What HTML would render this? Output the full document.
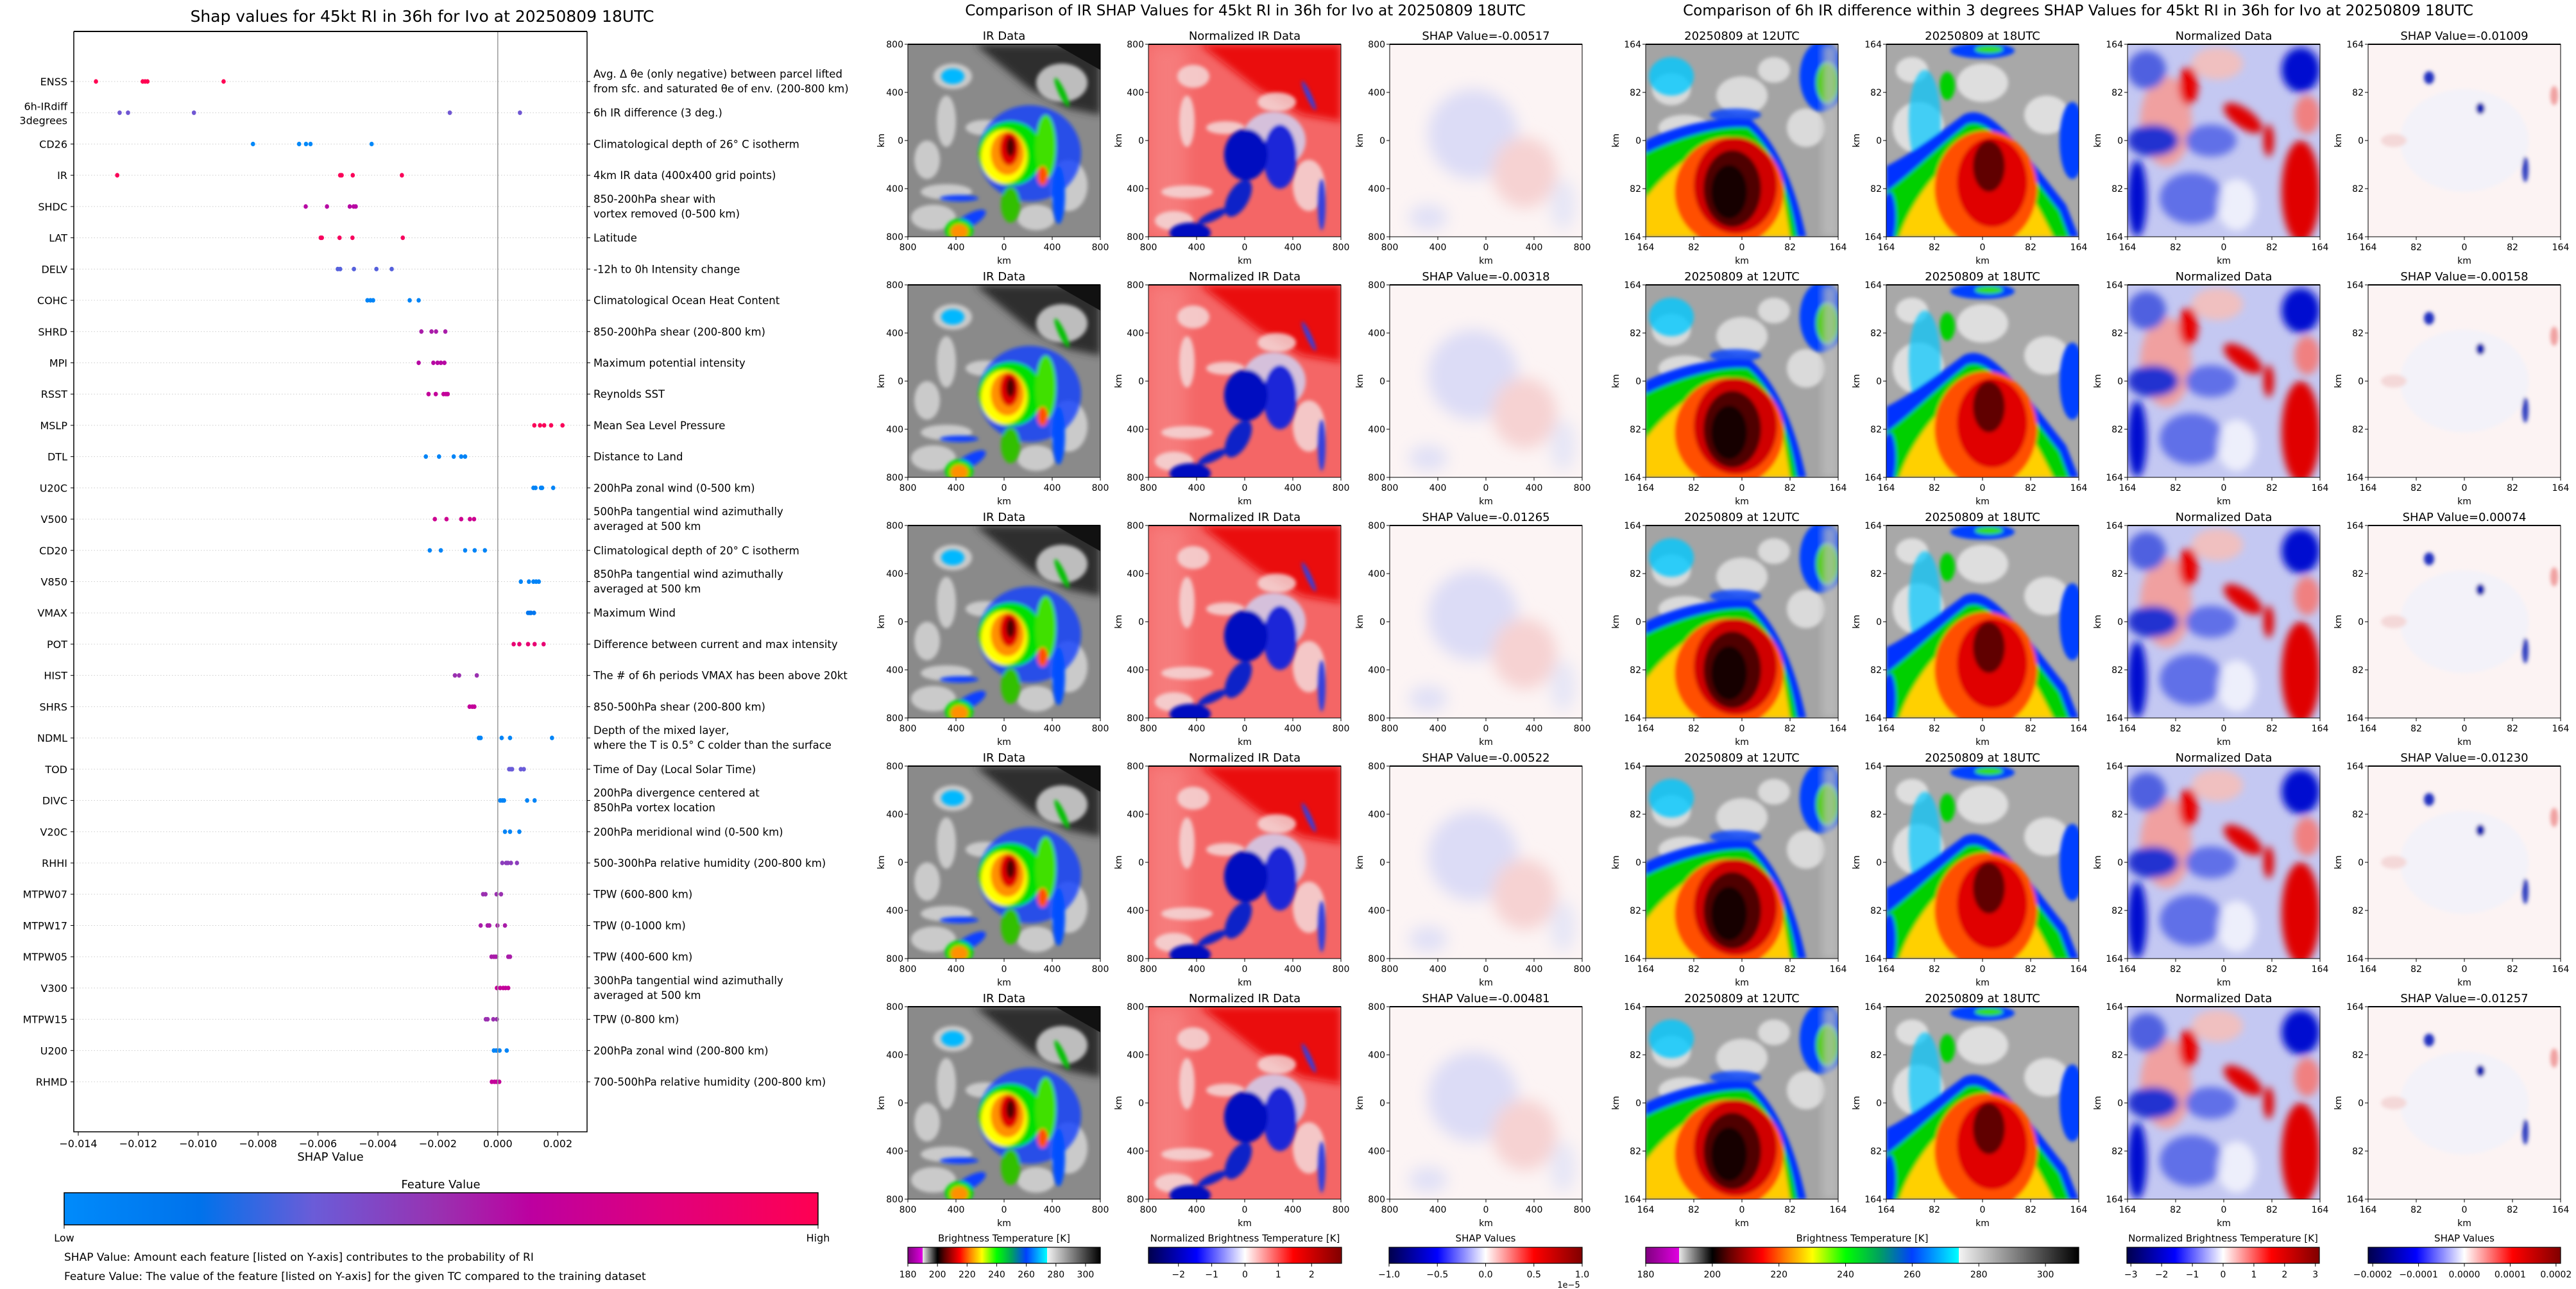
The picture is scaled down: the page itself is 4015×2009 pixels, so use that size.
<!DOCTYPE html>
<html><head><meta charset="utf-8">
<style>
html,body{margin:0;padding:0;background:#fff;}
svg{display:block;font-family:"DejaVu Sans","Liberation Sans",sans-serif;}
</style></head>
<body>
<svg id="fig" width="4015" height="2009" viewBox="0 0 4015 2009" xmlns="http://www.w3.org/2000/svg">
<defs>
  <filter id="b3" x="-20%" y="-20%" width="140%" height="140%"><feGaussianBlur stdDeviation="3"/></filter>
  <filter id="b6" x="-30%" y="-30%" width="160%" height="160%"><feGaussianBlur stdDeviation="6"/></filter>
  <filter id="b12" x="-40%" y="-40%" width="180%" height="180%"><feGaussianBlur stdDeviation="12"/></filter>
  <clipPath id="pc"><rect x="0" y="0" width="300" height="300"/></clipPath>
  <linearGradient id="fvGrad" x1="0" x2="1" y1="0" y2="0">
    <stop offset="0" stop-color="#008bfb"/><stop offset="0.18" stop-color="#0072eb"/>
    <stop offset="0.33" stop-color="#6a5cd8"/><stop offset="0.5" stop-color="#9a30b0"/>
    <stop offset="0.62" stop-color="#bd00a0"/><stop offset="0.8" stop-color="#e0007c"/>
    <stop offset="1" stop-color="#ff0052"/>
  </linearGradient>
  <linearGradient id="irGrad" x1="0" x2="1" y1="0" y2="0">
    <stop offset="0" stop-color="#800080"/><stop offset="0.077" stop-color="#e000e0"/>
    <stop offset="0.077" stop-color="#e8e8e8"/><stop offset="0.154" stop-color="#000000"/>
    <stop offset="0.192" stop-color="#600000"/><stop offset="0.269" stop-color="#ff0000"/>
    <stop offset="0.323" stop-color="#ff8000"/><stop offset="0.385" stop-color="#ffff00"/>
    <stop offset="0.462" stop-color="#00ff00"/><stop offset="0.54" stop-color="#00a060"/>
    <stop offset="0.615" stop-color="#0040ff"/><stop offset="0.723" stop-color="#00ffff"/>
    <stop offset="0.723" stop-color="#f4f4f4"/><stop offset="1" stop-color="#000000"/>
  </linearGradient>
  <linearGradient id="seisGrad" x1="0" x2="1" y1="0" y2="0">
    <stop offset="0" stop-color="#00004c"/><stop offset="0.25" stop-color="#0000ff"/>
    <stop offset="0.5" stop-color="#ffffff"/><stop offset="0.75" stop-color="#ff0000"/>
    <stop offset="1" stop-color="#800000"/>
  </linearGradient>

  <g id="pIR">
    <rect width="300" height="300" fill="#8a8a8a"/>
    <polygon points="105,0 300,0 300,110 250,100 190,70" fill="#2e2e2e" filter="url(#b6)"/>
    <polygon points="230,0 300,0 300,40" fill="#111"/>
    <g fill="#d6d6d6" filter="url(#b3)" opacity="0.85">
      <ellipse cx="70" cy="50" rx="30" ry="20"/><ellipse cx="60" cy="120" rx="15" ry="40"/>
      <ellipse cx="120" cy="130" rx="30" ry="12"/><ellipse cx="60" cy="230" rx="40" ry="12"/>
      <ellipse cx="40" cy="270" rx="35" ry="20"/><ellipse cx="240" cy="60" rx="40" ry="30"/>
      <ellipse cx="250" cy="220" rx="30" ry="40"/><ellipse cx="200" cy="270" rx="30" ry="20"/>
      <ellipse cx="30" cy="180" rx="20" ry="30"/>
    </g>
    <g filter="url(#b3)">
      <ellipse cx="190" cy="170" rx="80" ry="75" fill="#1040ff" opacity="0.8"/>
      <ellipse cx="70" cy="50" rx="18" ry="12" fill="#00b8ff"/>
      <ellipse cx="80" cy="240" rx="30" ry="5" fill="#1040ff"/>
      <ellipse cx="95" cy="275" rx="30" ry="10" fill="#1040ff" transform="rotate(-30 95 275)"/>
      <ellipse cx="235" cy="235" rx="10" ry="45" fill="#0050ff"/>
      <ellipse cx="240" cy="75" rx="5" ry="25" fill="#00c000" transform="rotate(-25 240 75)"/>
      <ellipse cx="160" cy="170" rx="50" ry="50" fill="#00e000"/>
      <ellipse cx="215" cy="160" rx="16" ry="50" fill="#40e000"/>
      <ellipse cx="160" cy="250" rx="15" ry="28" fill="#30c000"/>
      <ellipse cx="150" cy="175" rx="36" ry="42" fill="#ffff00"/>
      <ellipse cx="155" cy="170" rx="26" ry="34" fill="#ff9000"/>
      <ellipse cx="158" cy="163" rx="15" ry="26" fill="#e00000"/>
      <ellipse cx="160" cy="160" rx="7" ry="15" fill="#500000"/>
      <ellipse cx="210" cy="205" rx="8" ry="15" fill="#ff5000"/>
      <ellipse cx="80" cy="290" rx="22" ry="18" fill="#00e000"/>
      <ellipse cx="80" cy="292" rx="14" ry="12" fill="#ff9000"/>
    </g>
  </g>
  <g id="pNIR">
    <rect width="300" height="300" fill="#f46666"/>
    <polygon points="80,0 300,0 300,120 240,110 170,70" fill="#ea1010" filter="url(#b6)"/>
    <rect x="0" y="0" width="60" height="300" fill="#f88a8a" filter="url(#b12)" opacity="0.6"/>
    <g fill="#f4e0e0" filter="url(#b3)" opacity="0.8">
      <ellipse cx="70" cy="50" rx="25" ry="18"/><ellipse cx="60" cy="120" rx="12" ry="40"/>
      <ellipse cx="120" cy="130" rx="30" ry="10"/><ellipse cx="60" cy="230" rx="40" ry="10"/>
      <ellipse cx="250" cy="220" rx="25" ry="40"/><ellipse cx="200" cy="90" rx="30" ry="15"/>
      <ellipse cx="40" cy="275" rx="30" ry="15"/>
    </g>
    <g filter="url(#b3)">
      <ellipse cx="195" cy="150" rx="50" ry="45" fill="#d0d0f0" opacity="0.85"/>
      <ellipse cx="205" cy="175" rx="26" ry="50" fill="#1a28d8"/>
      <ellipse cx="152" cy="172" rx="34" ry="40" fill="#0008c0"/>
      <ellipse cx="140" cy="240" rx="16" ry="32" fill="#1020c8" transform="rotate(30 140 240)"/>
      <ellipse cx="100" cy="268" rx="25" ry="7" fill="#1020c8" transform="rotate(-25 100 268)"/>
      <ellipse cx="65" cy="294" rx="32" ry="16" fill="#0008c0"/>
      <ellipse cx="250" cy="80" rx="4" ry="25" fill="#3040e0" transform="rotate(-25 250 80)"/>
      <ellipse cx="270" cy="250" rx="6" ry="40" fill="#3040e0"/>
    </g>
  </g>
  <g id="pSH">
    <rect width="300" height="300" fill="#fcf4f4"/>
    <g filter="url(#b12)">
      <ellipse cx="130" cy="140" rx="70" ry="70" fill="#dcdcf6"/>
      <ellipse cx="210" cy="200" rx="50" ry="55" fill="#f6d2d2"/>
      <ellipse cx="60" cy="270" rx="30" ry="20" fill="#e0e0f6"/>
      <ellipse cx="270" cy="250" rx="20" ry="40" fill="#e6e6f6"/>
    </g>
  </g>
  <g id="p12">
    <rect width="300" height="300" fill="#a4a4a4"/>
    <g fill="#e0e0e0" filter="url(#b3)" opacity="0.9">
      <ellipse cx="40" cy="70" rx="30" ry="25"/><ellipse cx="150" cy="80" rx="40" ry="30"/>
      <ellipse cx="60" cy="130" rx="40" ry="20"/><ellipse cx="250" cy="130" rx="30" ry="30"/>
      <ellipse cx="200" cy="40" rx="25" ry="20"/>
    </g>
    <g filter="url(#b3)">
      <ellipse cx="40" cy="50" rx="35" ry="30" fill="#00c8ff" opacity="0.8"/>
      <ellipse cx="275" cy="50" rx="35" ry="55" fill="#0040ff"/>
      <ellipse cx="283" cy="60" rx="18" ry="32" fill="#40d000"/>
      <ellipse cx="140" cy="110" rx="40" ry="10" fill="#0040ff" opacity="0.8"/>
      <path d="M0,150 C40,130 110,110 165,118 C210,160 235,230 250,300 L0,300 Z" fill="#0030ff"/>
      <path d="M0,170 C40,150 110,125 160,130 C205,168 225,235 236,300 L0,300 Z" fill="#00d000"/>
      <path d="M0,300 L0,240 C30,200 70,170 110,155 C150,140 185,170 215,240 L225,300 Z" fill="#ffcc00"/>
      <ellipse cx="130" cy="230" rx="85" ry="85" fill="#ff5000"/>
      <ellipse cx="140" cy="220" rx="65" ry="75" fill="#d00000"/>
      <ellipse cx="135" cy="225" rx="45" ry="60" fill="#500000"/>
      <ellipse cx="130" cy="230" rx="28" ry="42" fill="#180000"/>
    </g>
    <rect x="275" y="0" width="25" height="300" fill="#c0c0c0" opacity="0.7" filter="url(#b6)"/>
  </g>
  <g id="p18">
    <rect width="300" height="300" fill="#a8a8a8"/>
    <g fill="#e4e4e4" filter="url(#b3)" opacity="0.9">
      <ellipse cx="50" cy="130" rx="40" ry="40"/><ellipse cx="150" cy="60" rx="40" ry="30"/>
      <ellipse cx="250" cy="110" rx="35" ry="30"/><ellipse cx="40" cy="40" rx="25" ry="20"/>
    </g>
    <g filter="url(#b3)">
      <ellipse cx="60" cy="120" rx="25" ry="80" fill="#00c8ff" opacity="0.7"/>
      <ellipse cx="95" cy="65" rx="12" ry="22" fill="#00d000"/>
      <ellipse cx="150" cy="10" rx="50" ry="12" fill="#0040ff"/>
      <ellipse cx="160" cy="8" rx="22" ry="6" fill="#30e000"/>
      <ellipse cx="290" cy="150" rx="20" ry="60" fill="#0040ff"/>
      <path d="M0,190 C40,170 80,140 120,110 C160,90 200,150 280,250 L300,300 L0,300 Z" fill="#0030ff"/>
      <path d="M0,230 C40,200 80,160 125,125 C160,110 200,170 270,260 L285,300 L0,300 Z" fill="#00d000"/>
      <path d="M20,300 C40,240 90,180 140,150 C180,150 220,220 260,300 Z" fill="#ffd000"/>
      <ellipse cx="155" cy="225" rx="80" ry="90" fill="#ff5000"/>
      <ellipse cx="165" cy="215" rx="55" ry="70" fill="#e00000"/>
      <ellipse cx="160" cy="190" rx="25" ry="40" fill="#600000"/>
      <ellipse cx="5" cy="270" rx="10" ry="40" fill="#0030ff"/>
    </g>
  </g>
  <g id="pND">
    <rect width="300" height="300" fill="#c4c8f2"/>
    <g filter="url(#b6)">
      <ellipse cx="60" cy="120" rx="40" ry="70" fill="#f0a0a0"/>
      <ellipse cx="140" cy="30" rx="40" ry="25" fill="#f0c0c0"/>
      <ellipse cx="270" cy="40" rx="30" ry="35" fill="#0010d0"/>
      <ellipse cx="30" cy="40" rx="30" ry="30" fill="#5060e0"/>
      <ellipse cx="95" cy="65" rx="15" ry="30" fill="#e80000"/>
      <ellipse cx="180" cy="115" rx="35" ry="15" fill="#e00000" transform="rotate(35 180 115)"/>
      <ellipse cx="220" cy="150" rx="8" ry="25" fill="#e00000"/>
      <ellipse cx="270" cy="230" rx="30" ry="80" fill="#e00000"/>
      <ellipse cx="280" cy="110" rx="20" ry="30" fill="#f08080"/>
      <ellipse cx="40" cy="150" rx="40" ry="25" fill="#2030d0"/>
      <ellipse cx="15" cy="240" rx="15" ry="60" fill="#0010d0"/>
      <ellipse cx="130" cy="150" rx="40" ry="25" fill="#6070e8"/>
      <ellipse cx="100" cy="240" rx="50" ry="40" fill="#6070e8"/>
      <ellipse cx="170" cy="250" rx="30" ry="40" fill="#ffffff" opacity="0.7"/>
    </g>
  </g>
  <g id="pRS">
    <rect width="300" height="300" fill="#fcf3f3"/>
    <g filter="url(#b3)">
      <ellipse cx="150" cy="150" rx="100" ry="80" fill="#f2f2fa" opacity="0.9"/>
      <ellipse cx="95" cy="52" rx="8" ry="10" fill="#2030c0"/>
      <ellipse cx="175" cy="100" rx="7" ry="9" fill="#1020b0"/>
      <ellipse cx="245" cy="195" rx="5" ry="20" fill="#3040c0"/>
      <ellipse cx="290" cy="80" rx="6" ry="15" fill="#f0a0a0"/>
      <ellipse cx="40" cy="150" rx="20" ry="10" fill="#f4d8d8"/>
    </g>
  </g>
</defs>
<g id="root"></g>
</svg>
<script>
const features = ["ENSS","6h-IRdiff|3degrees","CD26","IR","SHDC","LAT","DELV","COHC","SHRD","MPI","RSST","MSLP","DTL","U20C","V500","CD20","V850","VMAX","POT","HIST","SHRS","NDML","TOD","DIVC","V20C","RHHI","MTPW07","MTPW17","MTPW05","V300","MTPW15","U200","RHMD"];
const descriptions = [
 "Avg. Δ θe (only negative) between parcel lifted|from sfc. and saturated θe of env. (200-800 km)",
 "6h IR difference (3 deg.)","Climatological depth of 26° C isotherm","4km IR data (400x400 grid points)",
 "850-200hPa shear with|vortex removed (0-500 km)","Latitude","-12h to 0h Intensity change",
 "Climatological Ocean Heat Content","850-200hPa shear (200-800 km)","Maximum potential intensity",
 "Reynolds SST","Mean Sea Level Pressure","Distance to Land","200hPa zonal wind (0-500 km)",
 "500hPa tangential wind azimuthally|averaged at 500 km","Climatological depth of 20° C isotherm",
 "850hPa tangential wind azimuthally|averaged at 500 km","Maximum Wind","Difference between current and max intensity",
 "The # of 6h periods VMAX has been above 20kt","850-500hPa shear (200-800 km)",
 "Depth of the mixed layer,|where the T is 0.5° C colder than the surface","Time of Day (Local Solar Time)",
 "200hPa divergence centered at|850hPa vortex location","200hPa meridional wind (0-500 km)",
 "500-300hPa relative humidity (200-800 km)","TPW (600-800 km)","TPW (0-1000 km)","TPW (400-600 km)",
 "300hPa tangential wind azimuthally|averaged at 500 km","TPW (0-800 km)","200hPa zonal wind (200-800 km)",
 "700-500hPa relative humidity (200-800 km)"];
const shapValues = [
 [-0.01341,-0.01185,-0.01177,-0.01169,-0.00915],
 [-0.01262,-0.01234,-0.01014,-0.00160,0.00074],
 [-0.00817,-0.00663,-0.00640,-0.00625,-0.00421],
 [-0.01270,-0.00526,-0.00521,-0.00484,-0.00320],
 [-0.00641,-0.00570,-0.00494,-0.00481,-0.00474],
 [-0.00591,-0.00587,-0.00528,-0.00485,-0.00317],
 [-0.00534,-0.00526,-0.00480,-0.00405,-0.00354],
 [-0.00435,-0.00425,-0.00416,-0.00294,-0.00264],
 [-0.00255,-0.00221,-0.00206,-0.00175],
 [-0.00264,-0.00215,-0.00201,-0.00190,-0.00178],
 [-0.00231,-0.00207,-0.00181,-0.00173,-0.00167],
 [0.00122,0.00141,0.00155,0.00178,0.00216],
 [-0.00240,-0.00196,-0.00147,-0.00122,-0.00109],
 [0.00119,0.00126,0.00144,0.00148,0.00185],
 [-0.00210,-0.00171,-0.00122,-0.00093,-0.00079],
 [-0.00227,-0.00190,-0.00109,-0.00077,-0.00043],
 [0.00077,0.00104,0.00119,0.00128,0.00137],
 [0.00101,0.00107,0.00111,0.00121],
 [0.00053,0.00072,0.00101,0.00123,0.00153],
 [-0.00143,-0.00129,-0.00070],
 [-0.00094,-0.00085,-0.00078],
 [-0.00063,-0.00057,0.00013,0.00041,0.00181],
 [0.00038,0.00044,0.00048,0.00077,0.00087],
 [0.00008,0.00015,0.00021,0.00098,0.00123],
 [0.00024,0.00041,0.00072],
 [0.00015,0.00028,0.00034,0.00044,0.00064],
 [-0.00049,-0.00041,-0.00004,0.00011],
 [-0.00057,-0.00034,-0.00028,-0.00001,0.00024],
 [-0.00021,-0.00013,-0.00006,0.00035,0.00041],
 [-0.00003,0.00008,0.00018,0.00026,0.00035],
 [-0.00040,-0.00034,-0.00015,-0.00003],
 [-0.00013,-0.00005,0.00006,0.00030],
 [-0.00020,-0.00011,-0.00004,0.00005]];
const featureLevels = [1,0.35,0.02,0.97,0.6,0.95,0.3,0.05,0.55,0.6,0.65,0.97,0.05,0.05,0.7,0.05,0.05,0.15,0.85,0.5,0.65,0.05,0.33,0.05,0.05,0.45,0.5,0.55,0.55,0.65,0.5,0.05,0.65];
const xTicks = [-0.014,-0.012,-0.010,-0.008,-0.006,-0.004,-0.002,0.000,0.002];
const xTickLabels = ["\u22120.014","\u22120.012","\u22120.010","\u22120.008","\u22120.006","\u22120.004","\u22120.002","0.000","0.002"];
const shapTitlesIR = ["SHAP Value=-0.00517","SHAP Value=-0.00318","SHAP Value=-0.01265","SHAP Value=-0.00522","SHAP Value=-0.00481"];
const shapTitles6h = ["SHAP Value=-0.01009","SHAP Value=-0.00158","SHAP Value=0.00074","SHAP Value=-0.01230","SHAP Value=-0.01257"];
const irCbarTicks = [180,200,220,240,260,280,300];
const normMidTicks = [-2,-1,0,1,2];
const shapMidTicks = [-1.0,-0.5,0.0,0.5,1.0];
const irRightTicks = [180,200,220,240,260,280,300];
const normRightTicks = [-3,-2,-1,0,1,2,3];
const shapRightTicks = [-0.0002,-0.0001,0.0000,0.0001,0.0002];

const NS = "http://www.w3.org/2000/svg";
const root = document.getElementById('root');
function mk(tag, attrs, parent, text){
  const e = document.createElementNS(NS, tag);
  for (const k in attrs) e.setAttribute(k, attrs[k]);
  if (text !== undefined) e.textContent = text;
  (parent || root).appendChild(e);
  return e;
}
function fvColor(t){
  const st=[[0,[0,139,251]],[0.18,[0,114,235]],[0.33,[106,92,216]],[0.5,[154,48,176]],[0.62,[189,0,160]],[0.8,[224,0,124]],[1,[255,0,82]]];
  for(let i=1;i<st.length;i++){ if(t<=st[i][0]){const a=st[i-1],b=st[i];const f=(t-a[0])/(b[0]-a[0]);
    return 'rgb('+a[1].map((v,j)=>Math.round(v+(b[1][j]-v)*f)).join(',')+')';}}
  return 'rgb(255,0,82)';
}

const AX={l:115,r:915,t:49,b:1764};
const xmin=-0.01415, xmax=0.00298;
const sx=v=>AX.l+(v-xmin)/(xmax-xmin)*(AX.r-AX.l);
const rowY=i=>127+i*48.72;
const left = mk('g',{},root);


const t0=mk('text',{x:658,y:34,'font-size':25,'text-anchor':'middle'},left,'Shap values for 45kt RI in 36h for Ivo at 20250809 18UTC');


features.forEach((f,i)=>{
  const y=rowY(i);
  const gl=mk('line',{x1:AX.l,x2:AX.r,y1:y,y2:y,stroke:'#cccccc','stroke-width':1,'stroke-dasharray':'1.5,3'},left);
  
  
  mk('line',{x1:AX.l-5,x2:AX.l,y1:y,y2:y,stroke:'#000'},left);
  mk('line',{x1:AX.r,x2:AX.r+5,y1:y,y2:y,stroke:'#000'},left);
  const parts=f.split('|');
  const lab=mk('text',{x:AX.l-10,y:y+6,'font-size':16,'text-anchor':'end'},left);
  
  
  if(parts.length===1){lab.textContent=f;}
  else{lab.setAttribute('y',y-4);parts.forEach((p,k)=>mk('tspan',{x:AX.l-10,dy:k?22:0},lab,p));}
  const dparts=descriptions[i].split('|');
  const d=mk('text',{x:AX.r+10,y:y+6,'font-size':16.5},left);
  
  
  if(dparts.length===1){d.textContent=dparts[0];}
  else{d.setAttribute('y',y-6);dparts.forEach((p,k)=>mk('tspan',{x:AX.r+10,dy:k?23:0},d,p));}
  const col=fvColor(featureLevels[i]);
  shapValues[i].forEach(v=>{
    const c=mk('ellipse',{cx:sx(v),cy:y,rx:3.3,ry:3.6,fill:col},left);
    
    
  });
});
const zl=mk('line',{x1:sx(0),x2:sx(0),y1:AX.t,y2:AX.b,stroke:'#999','stroke-width':1.5},left);


const frame=mk('path',{d:`M${AX.l},${AX.t} L${AX.l},${AX.b} L${AX.r},${AX.b} L${AX.r},${AX.t}`,fill:'none',stroke:'#000','stroke-width':1.5},left);
mk('line',{x1:AX.l,x2:AX.r,y1:AX.t,y2:AX.t,stroke:'#000','stroke-width':2},left);


xTicks.forEach((v,k)=>{
  mk('line',{x1:sx(v),x2:sx(v),y1:AX.b,y2:AX.b+6,stroke:'#000'},left);
  const tl=mk('text',{x:sx(v),y:AX.b+24,'font-size':16,'text-anchor':'middle'},left,xTickLabels[k]);
  
  
});
const xt=mk('text',{x:515,y:1809,'font-size':18,'text-anchor':'middle'},left,'SHAP Value');


const fvt=mk('text',{x:687,y:1852,'font-size':18,'text-anchor':'middle'},left,'Feature Value');


const fcb=mk('rect',{x:100,y:1859,width:1175,height:50,fill:'url(#fvGrad)',stroke:'#000','stroke-width':1.5},left);


mk('line',{x1:100,x2:100,y1:1909,y2:1915,stroke:'#000'},left);
mk('line',{x1:1275,x2:1275,y1:1909,y2:1915,stroke:'#000'},left);
const lo=mk('text',{x:100,y:1935,'font-size':16,'text-anchor':'middle'},left,'Low');


const hi=mk('text',{x:1275,y:1935,'font-size':16,'text-anchor':'middle'},left,'High');


const n1=mk('text',{x:100,y:1965,'font-size':17},left,'SHAP Value: Amount each feature [listed on Y-axis] contributes to the probability of RI');


const n2=mk('text',{x:100,y:1995,'font-size':17},left,'Feature Value: The value of the feature [listed on Y-axis] for the given TC compared to the training dataset');



const rowTops=[69,444,819,1194,1569];
function panel(x,y,sym,title,ticks,ylab,name){
  const g=mk('g',{transform:`translate(${x},${y})`},root);
  
  
  const inner=mk('g',{'clip-path':'url(#pc)'},g);
  mk('use',{href:'#'+sym},inner);
  mk('rect',{x:0,y:0,width:300,height:300,fill:'none',stroke:'#000','stroke-width':1},g);
  mk('line',{x1:0,x2:300,y1:0,y2:0,stroke:'#000','stroke-width':2},g);
  const tt=mk('text',{x:150,y:-7,'font-size':18,'text-anchor':'middle'},g,title);
  
  
  ticks.forEach((t,k)=>{
    const p=k*75;
    mk('line',{x1:-5,x2:0,y1:p,y2:p,stroke:'#000'},g);
    mk('text',{x:-7,y:p+5,'font-size':14,'text-anchor':'end'},g,t);
    mk('line',{x1:p,x2:p,y1:300,y2:305,stroke:'#000'},g);
    mk('text',{x:p,y:321,'font-size':14,'text-anchor':'middle'},g,t);
  });
  mk('text',{x:150,y:342,'font-size':14,'text-anchor':'middle'},g,'km');
  if(ylab){ mk('text',{x:0,y:0,'font-size':14,'text-anchor':'middle',transform:`translate(${ylab},150) rotate(-90)`},g,'km'); }
}
const mt=mk('text',{x:1941,y:24,'font-size':23,'text-anchor':'middle'},root,'Comparison of IR SHAP Values for 45kt RI in 36h for Ivo at 20250809 18UTC');


const rt=mk('text',{x:3239,y:24,'font-size':23,'text-anchor':'middle'},root,'Comparison of 6h IR difference within 3 degrees SHAP Values for 45kt RI in 36h for Ivo at 20250809 18UTC');


const t800=['800','400','0','400','800'], t164=['164','82','0','82','164'];
rowTops.forEach((y,r)=>{
  panel(1415,y,'pIR','IR Data',t800,-37,'ir-data-panel');
  panel(1790,y,'pNIR','Normalized IR Data',t800,-42,'normalized-ir-panel');
  panel(2166,y,'pSH',shapTitlesIR[r],t800,-42,'ir-shap-panel');
  panel(2565,y,'p12','20250809 at 12UTC',t164,-42,'ir-12utc-panel');
  panel(2940,y,'p18','20250809 at 18UTC',t164,-42,'ir-18utc-panel');
  panel(3316,y,'pND','Normalized Data',t164,-42,'normalized-diff-panel');
  panel(3691,y,'pRS',shapTitles6h[r],t164,-42,'diff-shap-panel');
});

function cbar(x,w,grad,label,ticks,vmin,vmax,fmt,name){
  const g=mk('g',{},root);
  
  
  mk('text',{x:x+w/2,y:1935,'font-size':15,'text-anchor':'middle'},g,label);
  mk('rect',{x:x,y:1944,width:w,height:25,fill:`url(#${grad})`,stroke:'#000','stroke-width':1.2},g);
  ticks.forEach(t=>{
    const px=x+(t-vmin)/(vmax-vmin)*w;
    mk('line',{x1:px,x2:px,y1:1969,y2:1974,stroke:'#000'},g);
    mk('text',{x:px,y:1991,'font-size':14,'text-anchor':'middle'},g,fmt(t));
  });
}
const mfmt=v=>String(v).replace('-','\u2212');
cbar(1415,300,'irGrad','Brightness Temperature [K]',irCbarTicks,180,310,mfmt,'ir-colorbar');
cbar(1790,301,'seisGrad','Normalized Brightness Temperature [K]',normMidTicks,-2.9,2.9,mfmt,'normalized-ir-colorbar');
cbar(2165,301,'seisGrad','SHAP Values',shapMidTicks,-1,1,v=>mfmt(v.toFixed(1)),'ir-shap-colorbar');
mk('text',{x:2445,y:2007,'font-size':13,'text-anchor':'middle'},root,'1e\u22125');
cbar(2565,675,'irGrad','Brightness Temperature [K]',irRightTicks,180,310,mfmt,'diff-ir-colorbar');
cbar(3315,300,'seisGrad','Normalized Brightness Temperature [K]',normRightTicks,-3.13,3.13,mfmt,'normalized-diff-colorbar');
cbar(3691,300,'seisGrad','SHAP Values',shapRightTicks,-0.00021,0.00021,v=>mfmt(v.toFixed(4)),'diff-shap-colorbar');
</script>
</body></html>
